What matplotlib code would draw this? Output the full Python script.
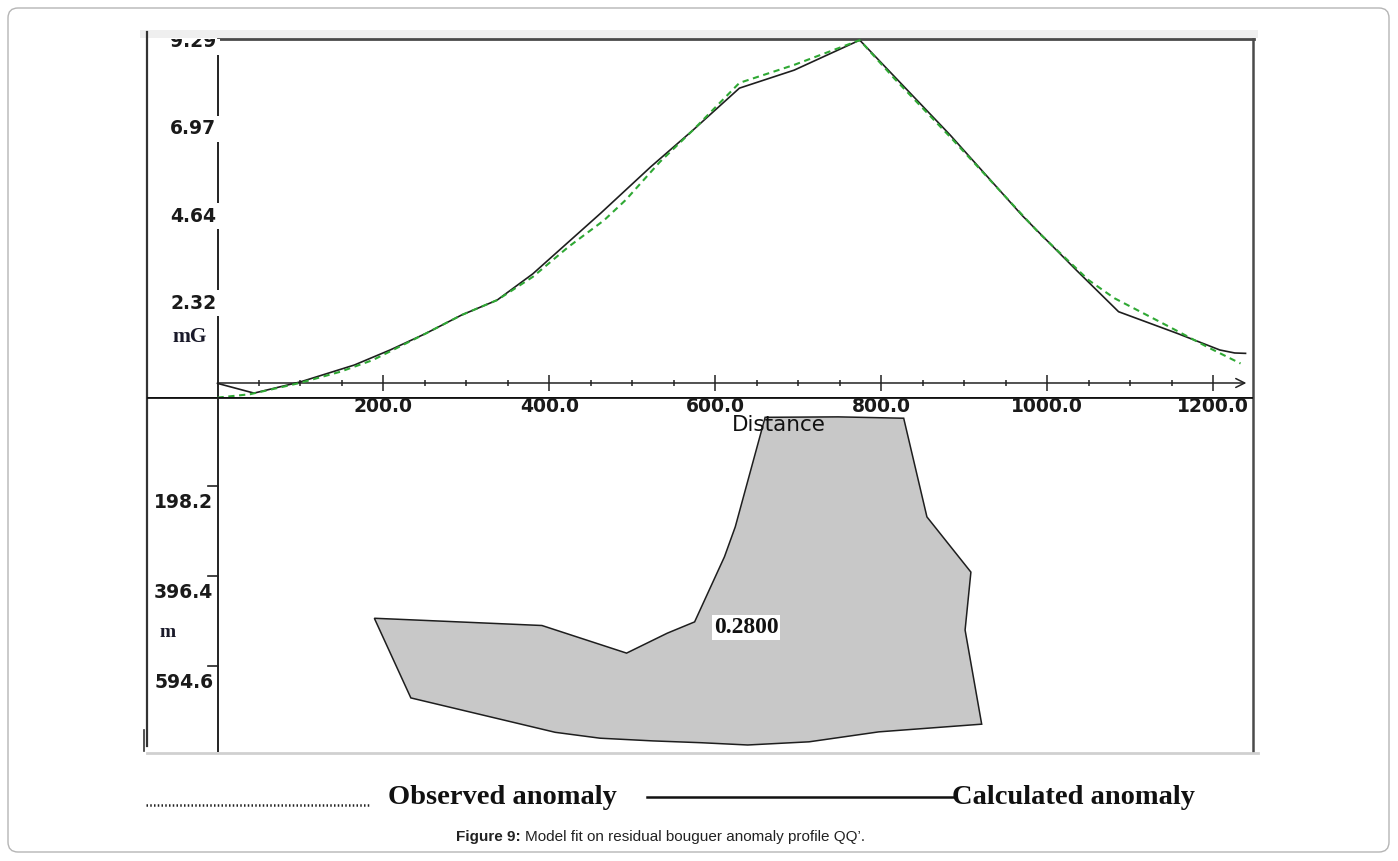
import matplotlib
matplotlib.use("Agg")
import matplotlib.pyplot as plt
from matplotlib.lines import Line2D
from matplotlib.patches import FancyBboxPatch, Rectangle

# Профиль QQ' : расстояние (м) и остаточная аномалия Буге (мГал)
calc_x = [0, 44, 100, 165, 208, 251, 294, 337, 380, 462, 522, 573, 624, 629,
          695, 774, 883, 970, 1035, 1086, 1157, 1208, 1226, 1239]
calc_g = [0.18, -0.08, 0.22, 0.67, 1.07, 1.51, 2.00, 2.40, 3.10, 4.72, 5.95,
          6.93, 7.95, 8.05, 8.53, 9.33, 6.80, 4.65, 3.20, 2.09, 1.51,
          1.07, 0.99, 0.98]

obs_x = [0, 39, 99, 148, 187, 251, 294, 337, 380, 423, 466, 492, 533, 573, 629, 695,
         774, 816, 883, 990, 1050, 1081, 1147, 1193, 1233]
obs_g = [-0.20, -0.11, 0.19, 0.49, 0.80, 1.51, 2.00, 2.40, 3.02, 3.82, 4.53, 5.07, 6.08,
         6.93, 8.19, 8.67, 9.33, 8.30, 6.75, 4.19, 2.93, 2.45, 1.69, 1.15, 0.71]

# Модельное тело (расстояние, глубина в м)
body_x = [189, 215, 391, 493, 542, 575, 580, 611, 624, 660, 748, 827, 855, 908, 901,
          921, 797, 713, 639, 583, 525, 461, 407, 233]
body_z = [490, 492, 506, 567, 523, 498, 478, 354, 288, 46, 45, 48, 266, 388, 516,
          724, 741, 763, 770, 765, 761, 755, 742, 666]
density = 0.28

g_ticks = [2.32, 4.64, 6.97, 9.29]
z_ticks = [198.2, 396.4, 594.6]
x_major = [200, 400, 600, 800, 1000, 1200]
x_minor = [v for v in range(50, 1201, 50) if v % 200 != 0]
base_g = 0.19      # уровень оси расстояний на графике аномалии
x_end = 1240

W, H = 1398, 861
fig = plt.figure(figsize=(W / 100, H / 100), dpi=100)


def rect(l, t, r, b):
    return [l / W, 1 - b / H, (r - l) / W, (b - t) / H]


# фон: рамки, подписи легенды и подпись рисунка в пикселях
bg = fig.add_axes([0, 0, 1, 1], zorder=0)
bg.set_xlim(0, W)
bg.set_ylim(H, 0)
bg.axis("off")
bg.add_patch(FancyBboxPatch((8, 8), W - 17, H - 17, boxstyle="round,pad=0,rounding_size=10",
                            fc="white", ec="#b5b5b5", lw=1))
bg.add_patch(Rectangle((140, 30), 1118, 8, fc="#efefef", ec="none"))
bg.add_line(Line2D([218, 1254], [39, 39], color="#4a4a4a", lw=2))
bg.add_line(Line2D([147, 147], [32, 746], color="#333333", lw=1.6))
bg.add_line(Line2D([143.5, 143.5], [730, 751], color="#333333", lw=1.2))
bg.add_line(Line2D([1253, 1253], [39, 752], color="#4a4a4a", lw=1.8))
bg.add_line(Line2D([147, 1258], [752.5, 752.5], color="#d0d0d0", lw=2))

serif = ["Liberation Serif", "DejaVu Serif"]
bg.add_line(Line2D([146, 371], [805, 805], color="#222222", lw=1.8, ls=(0, (0.6, 0.9))))
bg.text(388, 797, "Observed anomaly", family=serif, weight="bold", fontsize=20.5,
        ha="left", va="center", color="#111111")
bg.add_line(Line2D([647, 953], [797, 797], color="#111111", lw=1.8))
bg.text(952, 797, "Calculated anomaly", family=serif, weight="bold", fontsize=20.5,
        ha="left", va="center", color="#111111")
bg.text(521, 837, "Figure 9:", family="Liberation Sans", weight="bold", fontsize=11,
        ha="right", va="center", color="#222222")
bg.text(525, 837, "Model fit on residual bouguer anomaly profile QQ\u2019.",
        family="Liberation Sans", fontsize=11, ha="left", va="center", color="#222222")

xlim = (-85, 1248)

# верхняя панель: аномалия силы тяжести
ax1 = fig.add_axes(rect(147, 39, 1253, 396.5), zorder=2)
ax1.patch.set_visible(False)
ax1.set_xlim(*xlim)
ax1.set_ylim(-0.17, 9.36)
ax1.axis("off")
ax1.plot(calc_x, calc_g, color="#1e1e1e", lw=1.2, zorder=3)
ax1.plot(obs_x, obs_g, color="#2fa834", lw=1.5, ls=(0, (3.0, 2.2)), zorder=4)
ax1.axvline(0, color="#222222", lw=1.4, zorder=2)
ax1.annotate("", xy=(x_end, base_g), xytext=(0, base_g),
             arrowprops=dict(arrowstyle="->", color="#222222", lw=1.1, shrinkA=0, shrinkB=0,
                             mutation_scale=16), zorder=2)
ax1.plot(x_minor, [base_g] * len(x_minor), ls="none", marker="|", ms=5, mew=1.1,
         color="#222222", zorder=2)
ax1.plot(x_major, [base_g] * len(x_major), ls="none", marker="|", ms=11.5, mew=1.1,
         color="#222222", zorder=2)
for v in g_ticks:
    t = ax1.text(-1.5, v, f"{v:.2f}", family="DejaVu Sans", weight="bold", fontsize=13.5,
                 ha="right", va="center", color="#1a1a1a", zorder=5,
                 bbox=dict(fc="white", ec="none", pad=2.5))
    t.set_clip_on(True)
ax1.text(-33, 1.41, "mG", family=serif, weight="bold", fontsize=15.5, ha="center",
         va="center", color="#1a1a2a", zorder=5)

# нижняя панель: плотностная модель
ax2 = fig.add_axes(rect(147, 396.5, 1253, 752), zorder=1)
ax2.patch.set_visible(False)
ax2.set_xlim(*xlim)
ax2.set_ylim(785.5, 0)
ax2.axis("off")
ax2.fill(body_x, body_z, fc="#c8c8c8", ec="#1e1e1e", lw=1.1, zorder=2)
ax2.axhline(0, color="#111111", lw=2.0, zorder=3)
ax2.axvline(0, color="#222222", lw=1.4, zorder=3)
for v in x_major:
    ax2.text(v, 23, f"{v:.1f}", family="DejaVu Sans", weight="bold", fontsize=13.5,
             ha="center", va="center", color="#1a1a1a", zorder=4)
ax2.text(676, 63, "Distance", family="DejaVu Sans", fontsize=15.5, ha="center",
         va="center", color="#111111", zorder=4)
for z in z_ticks:
    ax2.plot([-12, 0], [z, z], color="#222222", lw=1.2, zorder=3)
    ax2.annotate(f"{z:.1f}", xy=(0, z), xytext=(-3, -5), textcoords="offset points",
                 family="DejaVu Sans", weight="bold", fontsize=13.5, ha="right", va="top",
                 color="#1a1a1a", zorder=4)
ax2.text(-60, 522, "m", family=serif, weight="bold", fontsize=14, ha="center",
         va="center", color="#1a1a2a", zorder=4)
ax2.text(637, 510, f"{density:.4f}", family=serif, weight="bold", fontsize=17,
         ha="center", va="center", color="#111111", zorder=4,
         bbox=dict(fc="white", ec="none", pad=1.5))

fig.savefig("out.png", dpi=100)
